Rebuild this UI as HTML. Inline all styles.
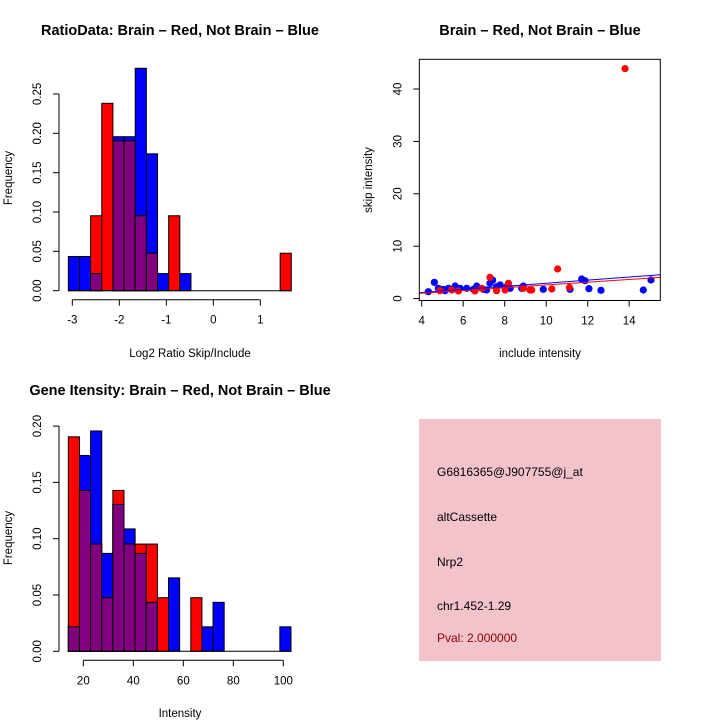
<!DOCTYPE html>
<html><head><meta charset="utf-8"><style>
body{margin:0;background:#fff}
svg{display:block;font-family:"Liberation Sans",sans-serif}
</style></head><body>
<svg id="c" width="720" height="720" viewBox="0 0 720 720">
<rect width="720" height="720" fill="#fff"/>
</svg>
<script>
// ---- Panel 1: ratio histogram ----
const ratioBreakStart = -3.085;
const ratioBinWidth = 0.2372;
const ratioRed = [0,0,2,5,4,4,2,1,0,2,0,0,0,0,0,0,0,0,0,1];
const ratioBlue = [2,2,1,0,9,9,13,8,1,0,1,0,0,0,0,0,0,0,0,0];
const ratioXTicks = [-3,-2,-1,0,1];
const ratioYTicks = [0,0.05,0.10,0.15,0.20,0.25];
// ---- Panel 3: intensity histogram ----
const intBreakStart = 14.0;
const intBinWidth = 4.453;
const intRed = [4,3,2,1,3,2,2,2,1,0,0,1,0,0,0,0,0,0,0,0];
const intBlue = [1,8,9,4,6,5,4,2,0,3,0,0,1,2,0,0,0,0,0,1];
const intXTicks = [20,40,60,80,100];
const intYTicks = [0,0.05,0.10,0.15,0.20];
// ---- Panel 2: scatter ----
const blueX = [4.32,4.61,4.80,5.04,5.29,5.61,5.85,6.17,6.65,6.97,7.29,7.42,7.61,7.78,8.26,8.90,9.86,11.15,11.71,11.87,12.06,12.64,14.68,15.05,5.12,6.49,7.13,8.10,8.82];
const blueY = [1.32,3.10,1.96,1.77,1.96,2.40,1.96,1.96,2.40,1.77,2.91,3.54,2.28,2.60,1.96,2.40,1.77,1.77,3.74,3.42,1.90,1.58,1.64,3.55,1.51,1.77,1.64,2.28,1.96];
const redX = [7.29,8.18,8.02,7.61,9.22,9.30,10.27,10.55,11.12,5.77,6.57,4.88,5.45,6.89,8.90,13.8];
const redY = [4.05,2.91,1.64,1.51,1.64,1.64,1.83,5.65,2.14,1.45,1.45,1.51,1.64,1.96,1.96,43.9];
const fitIntercept = [-0.03,-0.03]; // blue, red
const fitSlope = [0.296,0.263];
const scXTicks = [4,6,8,10,12,14];
const scYTicks = [0,10,20,30,40];

const NS='http://www.w3.org/2000/svg';
const svg=document.getElementById('c');
function el(tag,attrs,parent){const e=document.createElementNS(NS,tag);for(const k in attrs)e.setAttribute(k,attrs[k]);(parent||svg).appendChild(e);return e;}
function txt(x,y,s,attrs,parent){const t=el('text',Object.assign({x:x,y:y,'text-anchor':'middle','font-size':11.5},attrs||{}),parent);t.textContent=s;return t;}
const sum=a=>a.reduce((p,q)=>p+q,0);

function histogram(name,g,start,bw,red,blue,xs,ys,xt,yt){
  const rN=sum(red),bN=sum(blue);
  for(let i=0;i<red.length;i++){
    const x0=xs(start+i*bw),x1=xs(start+(i+1)*bw);
    const b=blue[i]/bN,r=red[i]/rN,m=Math.min(b,r);
    const parts=[[b,'#0000ff','blue'],[r,'#ff0000','red'],[m,'#800080','overlap']];
    for(const [v,c,n] of parts){ if(v<=0)continue;
      const rc=el('rect',{x:x0,y:ys(v),width:x1-x0,height:ys(0)-ys(v),fill:c,stroke:'#000','stroke-width':1},g);
      
      
    }
  }
  el('line',{x1:xs(start),x2:xs(start+red.length*bw),y1:ys(0),y2:ys(0),stroke:'#000'},g);
  const ax=el('g',{},g);
  const yA=ys(0)+9;
  el('line',{x1:xs(xt[0]),x2:xs(xt[xt.length-1]),y1:yA,y2:yA,stroke:'#000'},ax);
  xt.forEach(v=>{el('line',{x1:xs(v),x2:xs(v),y1:yA,y2:yA+6,stroke:'#000'},ax);txt(xs(v),yA+24,String(v),{},ax);});
  const ay=el('g',{},g);
  const xA=59;
  el('line',{x1:xA,x2:xA,y1:ys(yt[0]),y2:ys(yt[yt.length-1]),stroke:'#000'},ay);
  yt.forEach(v=>{el('line',{x1:xA-6,x2:xA,y1:ys(v),y2:ys(v),stroke:'#000'},ay);
    txt(0,0,v.toFixed(2),{transform:`translate(${xA-18},${ys(v)}) rotate(-90)`},ay);});
}

// Panel 1
{
  const g=el('g',{});
  const xs=v=>72.33+47*(v+3), ys=v=>290.7-787*v;
  histogram('ratio',g,ratioBreakStart,ratioBinWidth,ratioRed,ratioBlue,xs,ys,ratioXTicks,ratioYTicks);
  const t=txt(180,35,'RatioData: Brain \u2013 Red, Not Brain \u2013 Blue',{'font-size':14.5,'font-weight':'bold'},g);
  const xl=txt(190,357,'Log2 Ratio Skip/Include',{'font-size':11.5},g);
  const yl=txt(0,0,'Frequency',{'font-size':11.5,transform:'translate(12,178) rotate(-90)'},g);
}
// Panel 3
{
  const g=el('g',{});
  const xs=v=>83.33+2.5*(v-20), ys=v=>651.3-1126*v;
  histogram('intensity',g,intBreakStart,intBinWidth,intRed,intBlue,xs,ys,intXTicks,intYTicks);
  const t=txt(180,395,'Gene Itensity: Brain \u2013 Red, Not Brain \u2013 Blue',{'font-size':14.5,'font-weight':'bold'},g);
  const xl=txt(180,717,'Intensity',{'font-size':11.5},g);
  const yl=txt(0,0,'Frequency',{'font-size':11.5,transform:'translate(12,538) rotate(-90)'},g);
}
// Panel 2 scatter
{
  const g=el('g',{});
  const xs=v=>421.7+20.75*(v-4), ys=v=>298.6-5.24*v;
  const L=419.3,R=660.3,T=59.3,B=300.5;
  el('defs',{},g).innerHTML='<clipPath id="clipsc"><rect x="419.3" y="59.3" width="241" height="241.2"/></clipPath>';
  const pts=el('g',{'clip-path':'url(#clipsc)'},g);
  blueX.forEach((x,i)=>{const c=el('circle',{cx:xs(x),cy:ys(blueY[i]),r:3.6,fill:'#0000ff'},pts);});
  redX.forEach((x,i)=>{const c=el('circle',{cx:xs(x),cy:ys(redY[i]),r:3.6,fill:'#ff0000'},pts);});
  const x0=(L-421.7)/20.75+4,x1=(R-421.7)/20.75+4;
  ['#0000ff','#ff0000'].forEach((col,k)=>{
    const l=el('line',{x1:xs(x0),x2:xs(x1),y1:ys(fitIntercept[k]+fitSlope[k]*x0),y2:ys(fitIntercept[k]+fitSlope[k]*x1),stroke:col,'stroke-width':1},pts);
    
  });
  const box=el('rect',{x:L,y:T,width:R-L,height:B-T,fill:'none',stroke:'#000'},g);
  const ax=el('g',{},g);
  scXTicks.forEach(v=>{el('line',{x1:xs(v),x2:xs(v),y1:B,y2:B+6,stroke:'#000'},ax);txt(xs(v),B+24,String(v),{},ax);});
  const ay=el('g',{},g);
  scYTicks.forEach(v=>{el('line',{x1:L-6,x2:L,y1:ys(v),y2:ys(v),stroke:'#000'},ay);txt(0,0,String(v),{transform:`translate(${L-18},${ys(v)}) rotate(-90)`},ay);});
  const t=txt(540,35,'Brain \u2013 Red, Not Brain \u2013 Blue',{'font-size':14.5,'font-weight':'bold'},g);
  const xl=txt(540,357,'include intensity',{'font-size':11.5},g);
  const yl=txt(0,0,'skip intensity',{'font-size':11.5,transform:'translate(372,180) rotate(-90)'},g);
}
// Info panel
{
  const g=el('g',{});
  el('rect',{x:419,y:419,width:242,height:242,fill:'#f3c3cc'},g);
  const lines=[['G6816365@J907755@j_at',476,'#000','probe-id'],['altCassette',521,'#000','event-type'],['Nrp2',566,'#000','gene-name'],['chr1.452-1.29',610,'#000','location'],['Pval: 2.000000',642,'#8b0000','p-value']];
  lines.forEach(([s,y,c,n])=>{const t=txt(437,y,s,{'text-anchor':'start','font-size':12,fill:c},g);});
}
</script>
</body></html>
